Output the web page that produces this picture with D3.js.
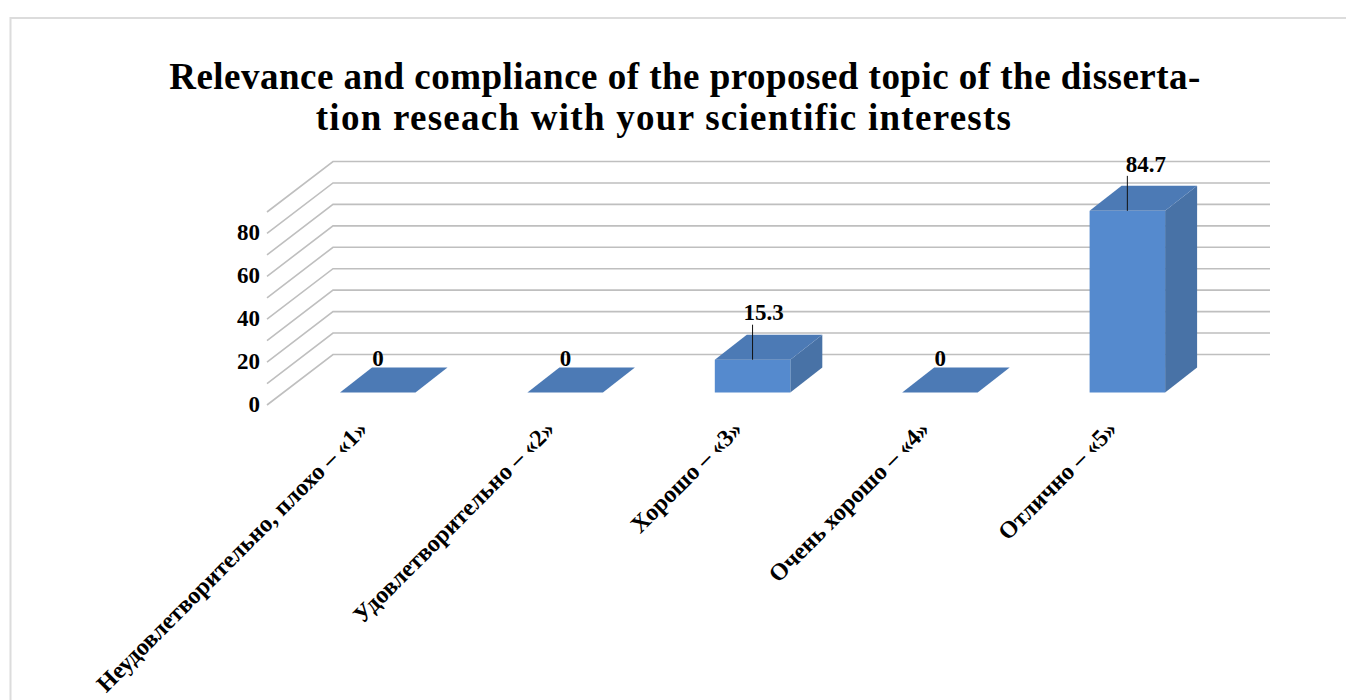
<!DOCTYPE html>
<html><head><meta charset="utf-8">
<script src="https://cdnjs.cloudflare.com/ajax/libs/d3/7.8.5/d3.min.js"></script>
<style>html,body{margin:0;padding:0;background:#fff;overflow:hidden}svg{display:block}text{font-family:"Liberation Serif",serif;font-weight:bold;fill:#000}</style>
</head><body><svg id="c" width="1346" height="700"></svg>
<script>
const titleLines = ["Relevance and compliance of the proposed topic of the disserta-", "tion reseach with your scientific interests"];
const categories = ["Неудовлетворительно, плохо – «1»", "Удовлетворительно – «2»", "Хорошо – «3»", "Очень хорошо – «4»", "Отлично – «5»"];
const values = [0, 0, 15.3, 0, 84.7];
const valueLabels = ["0", "0", "15.3", "0", "84.7"];
const gridValues = [0,10,20,30,40,50,60,70,80,90];
const tickValues = [0,20,40,60,80];

const svg = d3.select("#c");
svg.append("rect").attr("x",10.5).attr("y",18).attr("width",1400).attr("height",760)
  .attr("fill","#fff").attr("stroke","#dcdcdc").attr("stroke-width",2);

const t = svg.append("g");
titleLines.forEach((s,i)=>t.append("text").attr("x",[685,664][i]).attr("y",[89,130][i]).attr("text-anchor","middle")
  .attr("font-size",37).attr("letter-spacing",[0.48,1.26][i]).text(s));

// wall geometry
const backL=333, backR=1270, backY0=354.5, depthX=66, depthY=50.5;
const y = d3.scaleLinear().domain([0,90]).range([0,193]);   // height above floor
const x = d3.scaleBand().domain(categories).range([backL,backR]);
const barW=75.5, barDX=32, barDY=25, baseY=392.5;

const grid = svg.append("g").attr("stroke","#bfbfbf").attr("stroke-width",1.6).attr("fill","none");
gridValues.forEach(v=>{
  const yb=backY0-y(v);
  grid.append("path").attr("d",`M${backL-depthX},${yb+depthY}L${backL},${yb}L${backR},${yb}`);
});

const bars = svg.append("g");
categories.forEach((c,i)=>{
  const h=y(values[i]), xl=x(c)+7, xr=xl+barW, yt=baseY-h;
  if(h>0){
    bars.append("path").attr("d",`M${xr},${yt}L${xr+barDX},${yt-barDY}L${xr+barDX},${baseY-barDY}L${xr},${baseY}Z`).attr("fill","#4872a6");
    bars.append("rect").attr("x",xl).attr("y",yt).attr("width",barW).attr("height",h).attr("fill","#558ace");
  }
  bars.append("path").attr("d",`M${xl},${yt}L${xl+barDX},${yt-barDY}L${xr+barDX},${yt-barDY}L${xr},${yt}Z`).attr("fill","#4c7ab5");
});

tickValues.forEach(v=>{
  svg.append("text").attr("x",260).attr("text-anchor","end").attr("y",backY0+depthY-y(v)+7)
    .attr("font-size",23).text(v);
});

categories.forEach((c,i)=>{
  const xl=x(c)+7, yt=baseY-y(values[i]);
  if(values[i]>0){
    svg.append("line").attr("x1",xl+barW/2).attr("x2",xl+barW/2).attr("y1",yt).attr("y2",yt-35).attr("stroke","#111").attr("stroke-width",1);
    svg.append("text").attr("x",xl+barW/2+(i==2?11:18.5)).attr("y",yt-(i==2?40:38.5)).attr("text-anchor","middle").attr("font-size",23).text(valueLabels[i]);
  } else {
    svg.append("text").attr("x",xl+38).attr("y",yt-26.5).attr("text-anchor","middle").attr("font-size",23).text(valueLabels[i]);
  }
  const lx=xl+17, ly=419;
  svg.append("text").attr("transform",`translate(${lx},${ly}) rotate(-45)`).attr("text-anchor","end").attr("dy","0.7em")
    .attr("font-size",24).text(c);
});
</script></body></html>
